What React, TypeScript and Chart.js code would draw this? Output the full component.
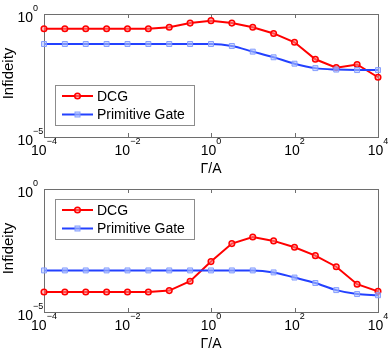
import React, { useEffect, useRef } from "react";
import { Chart, registerables } from "chart.js";
Chart.register(...registerables);

// Γ/A sample positions (half-decade steps)
const gammaOverA = [1e-4, 3.16e-4, 1e-3, 3.16e-3, 1e-2, 3.16e-2, 0.1, 0.316, 1, 3.16, 10, 31.6, 100, 316, 1000, 3160, 1e4];

// Upper panel
const topDCG = [0.251, 0.251, 0.251, 0.251, 0.251, 0.251, 0.288, 0.427, 0.537, 0.427, 0.288, 0.162, 0.0708, 0.01445, 0.00661, 0.00891, 0.00269];
const topPrimitive = [0.0603, 0.0603, 0.0603, 0.0603, 0.0603, 0.0603, 0.0603, 0.0603, 0.0603, 0.0501, 0.0295, 0.0174, 0.00955, 0.00631, 0.0055, 0.00525, 0.00525];

// Lower panel
const bottomDCG = [6.46e-5, 6.46e-5, 6.46e-5, 6.46e-5, 6.46e-5, 6.46e-5, 7.41e-5, 1.78e-4, 1.12e-3, 6.03e-3, 0.0112, 7.76e-3, 4.27e-3, 1.95e-3, 6.92e-4, 1.35e-4, 6.92e-5];
const bottomPrimitive = [4.9e-4, 4.9e-4, 4.9e-4, 4.9e-4, 4.9e-4, 4.9e-4, 4.9e-4, 4.9e-4, 4.9e-4, 4.9e-4, 4.9e-4, 4.07e-4, 2.51e-4, 1.51e-4, 7.76e-5, 5.37e-5, 4.79e-5];

const seriesNames = ["DCG", "Primitive Gate"];
const xTickExponents = [-4, -2, 0, 2, 4];
const yTickExponents = [0, -5];
const xTitle = "Γ/A";
const yTitle = "Infideity";

const FONT = '"Liberation Sans", Arial, Helvetica, sans-serif';
const RED = "rgb(255,0,0)";
const RED_FILL = "rgba(255,140,140,0.55)";
const BLUE = "rgb(35,65,255)";
const BLUE_MARK = "rgba(130,155,255,0.95)";
const BLUE_FILL = "rgba(175,195,255,0.6)";
const AXIS = "#6e6e6e";

function expText(e: number) {
  return e < 0 ? "\u2212" + Math.abs(e) : String(e);
}

const framePlugin = {
  id: "frame",
  beforeDatasetsDraw(chart: any) {
    const { ctx, chartArea: a, scales } = chart;
    ctx.save();
    ctx.strokeStyle = AXIS;
    ctx.lineWidth = 1;
    ctx.strokeRect(Math.round(a.left) + 0.5, Math.round(a.top) + 0.5, Math.round(a.right - a.left), Math.round(a.bottom - a.top));
    ctx.beginPath();
    for (const e of xTickExponents) {
      const px = Math.round(scales.x.getPixelForValue(Math.pow(10, e))) + 0.5;
      ctx.moveTo(px, a.bottom);
      ctx.lineTo(px, a.bottom - 4);
      ctx.moveTo(px, a.top);
      ctx.lineTo(px, a.top + 4);
    }
    ctx.stroke();
    ctx.restore();
  },
  afterDraw(chart: any) {
    const { ctx, chartArea: a, scales } = chart;
    const cfg = chart.options.plugins.frame;
    ctx.save();
    ctx.fillStyle = "#000";
    ctx.textBaseline = "alphabetic";
    // x tick labels
    for (const e of xTickExponents) {
      const px = scales.x.getPixelForValue(Math.pow(10, e));
      ctx.font = `14px ${FONT}`;
      const w1 = ctx.measureText("10").width;
      ctx.font = `9px ${FONT}`;
      const w2 = ctx.measureText(expText(e)).width;
      const start = px - (w1 + w2) / 2;
      const base = a.bottom + 18;
      ctx.font = `14px ${FONT}`;
      ctx.textAlign = "left";
      ctx.fillText("10", start, base);
      ctx.font = `9px ${FONT}`;
      ctx.fillText(expText(e), start + w1, base - 11);
    }
    // y tick labels
    for (const e of yTickExponents) {
      const py = scales.y.getPixelForValue(Math.pow(10, e));
      const base = py + 8;
      const xr = a.left - 11;
      ctx.font = `14px ${FONT}`;
      ctx.textAlign = "right";
      ctx.fillText("10", xr, base);
      ctx.font = `9px ${FONT}`;
      ctx.textAlign = "left";
      ctx.fillText(expText(e), xr, base - 11);
    }
    // axis titles
    ctx.font = `14px ${FONT}`;
    ctx.textAlign = "center";
    ctx.fillText(xTitle, (a.left + a.right) / 2, a.bottom + 36);
    ctx.save();
    ctx.translate(9, (a.top + a.bottom) / 2 - 2);
    ctx.rotate(-Math.PI / 2);
    ctx.font = `15px ${FONT}`;
    ctx.textBaseline = "middle";
    ctx.fillText(yTitle, 0, 0);
    ctx.restore();

    // legend
    const bx = Math.round(a.left) + 11;
    const by = Math.round(a.top) + cfg.legendOffset;
    ctx.fillStyle = "#fff";
    ctx.fillRect(bx, by, 139, 40);
    ctx.strokeStyle = "#8c8c8c";
    ctx.lineWidth = 1;
    ctx.strokeRect(bx + 0.5, by + 0.5, 139, 40);
    const rows = [by + 11, by + 29.5];
    // DCG row
    ctx.strokeStyle = RED;
    ctx.lineWidth = 2;
    ctx.beginPath();
    ctx.moveTo(bx + 7, rows[0]);
    ctx.lineTo(bx + 38, rows[0]);
    ctx.stroke();
    ctx.beginPath();
    ctx.arc(bx + 22.5, rows[0], 2.8, 0, Math.PI * 2);
    ctx.fillStyle = RED_FILL;
    ctx.fill();
    ctx.lineWidth = 1.5;
    ctx.stroke();
    // Primitive row
    ctx.strokeStyle = BLUE;
    ctx.lineWidth = 2;
    ctx.beginPath();
    ctx.moveTo(bx + 7, rows[1]);
    ctx.lineTo(bx + 38, rows[1]);
    ctx.stroke();
    ctx.fillStyle = BLUE_FILL;
    ctx.fillRect(bx + 20, rows[1] - 2.5, 5, 5);
    ctx.strokeStyle = BLUE_MARK;
    ctx.lineWidth = 1;
    ctx.strokeRect(bx + 20, rows[1] - 2.5, 5, 5);
    ctx.fillStyle = "#000";
    ctx.font = `14px ${FONT}`;
    ctx.textAlign = "left";
    ctx.textBaseline = "middle";
    ctx.fillText(seriesNames[0], bx + 42, rows[0] + 1);
    ctx.fillText(seriesNames[1], bx + 42, rows[1] + 1);
    ctx.restore();
  },
};

function Panel({ dcg, prim, height, legendOffset, top }: { dcg: number[]; prim: number[]; height: number; legendOffset: number; top: number }) {
  const ref = useRef<HTMLCanvasElement>(null);
  useEffect(() => {
    const canvas = ref.current!;
    const chart = new Chart(canvas, {
      type: "line",
      data: {
        datasets: [
          {
            label: seriesNames[1],
            data: gammaOverA.map((x, i) => ({ x, y: prim[i] })),
            borderColor: BLUE,
            borderWidth: 2,
            pointStyle: "rect",
            pointRadius: 3.5,
            pointBorderWidth: 1,
            pointBorderColor: BLUE_MARK,
            pointBackgroundColor: BLUE_FILL,
            cubicInterpolationMode: "monotone",
            clip: false,
          } as any,
          {
            label: seriesNames[0],
            data: gammaOverA.map((x, i) => ({ x, y: dcg[i] })),
            borderColor: RED,
            borderWidth: 2,
            pointStyle: "circle",
            pointRadius: 2.8,
            pointBorderWidth: 1.5,
            pointBorderColor: RED,
            pointBackgroundColor: RED_FILL,
            tension: 0,
            clip: false,
          } as any,
        ],
      },
      options: {
        responsive: false,
        animation: false,
        devicePixelRatio: 1,
        layout: { padding: { left: 44, top: 14, right: 10, bottom: height - 137 } },
        scales: {
          x: { type: "logarithmic", min: 1e-4, max: 1e4, display: false },
          y: { type: "logarithmic", min: 1e-5, max: 1, display: false },
        },
        plugins: {
          legend: { display: false },
          tooltip: { enabled: false },
          frame: { legendOffset },
        } as any,
      },
      plugins: [framePlugin],
    });
    return () => chart.destroy();
  }, []);
  return (
    <canvas
      ref={ref}
      width={388}
      height={height}
      style={{ position: "absolute", left: 0, top, width: 388, height, display: "block" }}
    />
  );
}

export default function App() {
  return (
    <div style={{ position: "absolute", left: 0, top: 0, width: 388, height: 355, background: "#fff" }}>
      <Panel dcg={topDCG} prim={topPrimitive} height={175} legendOffset={71} top={0} />
      <Panel dcg={bottomDCG} prim={bottomPrimitive} height={180} legendOffset={10} top={175} />
    </div>
  );
}
